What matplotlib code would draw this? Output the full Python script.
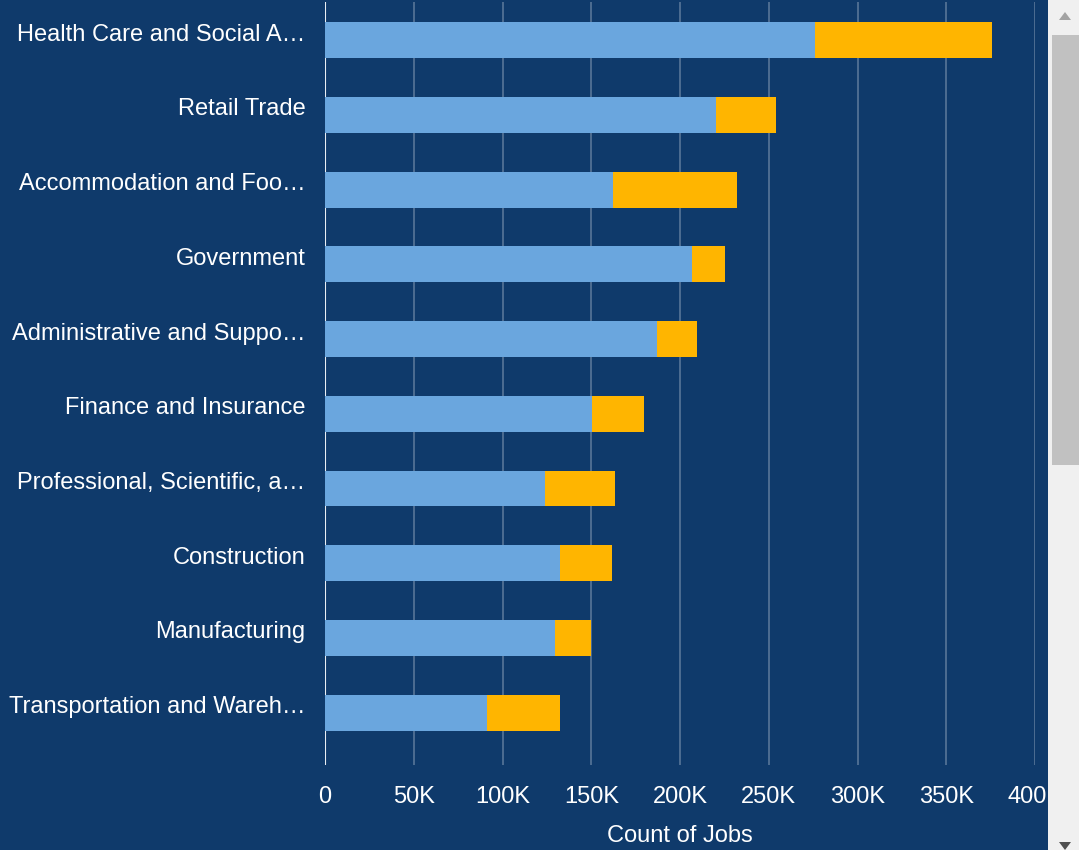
import matplotlib
matplotlib.use("Agg")
import matplotlib.pyplot as plt
from matplotlib.patches import Rectangle, Polygon
from matplotlib.ticker import FuncFormatter
from matplotlib.transforms import ScaledTranslation

categories = [
    "Health Care and Social A…",
    "Retail Trade",
    "Accommodation and Foo…",
    "Government",
    "Administrative and Suppo…",
    "Finance and Insurance",
    "Professional, Scientific, a…",
    "Construction",
    "Manufacturing",
    "Transportation and Wareh…",
]
blue_values = [276000, 220000, 162000, 207000, 187000, 150500, 124000, 132500, 129500, 91500]
yellow_values = [100000, 34000, 70000, 18500, 22500, 29000, 39500, 29000, 20500, 41000]
x_ticks = [0, 50000, 100000, 150000, 200000, 250000, 300000, 350000, 400000]

BG = "#0f3a6b"
BLUE = "#6aa6de"
YELLOW = "#ffb500"

plt.rcParams['font.family'] = ['Liberation Sans', 'DejaVu Sans']

W, H = 1079, 850
fig = plt.figure(figsize=(W / 100, H / 100), dpi=100)
fig.patch.set_facecolor(BG)

ax = fig.add_axes([325 / W, 1 - 765 / H, (1035 - 325) / W, (765 - 2) / H])
ax.set_facecolor(BG)

y = list(range(len(categories)))
ax.barh(y, blue_values, height=0.48, color=BLUE, zorder=3)
ax.barh(y, yellow_values, left=blue_values, height=0.48, color=YELLOW, zorder=3)

ax.set_ylim(9.70, -0.51)
ax.set_xlim(0, 400000)
ax.set_xticks(x_ticks)
ax.xaxis.set_major_formatter(FuncFormatter(lambda v, p: "0" if v == 0 else f"{int(v/1000)}K"))
ax.set_yticks(y)
ax.set_yticklabels(categories)
ax.tick_params(axis='y', length=0, pad=14, labelsize=17, labelcolor='white')
ax.tick_params(axis='x', length=0, pad=15, labelsize=17, labelcolor='white')
off = ScaledTranslation(0, 8 / 100, fig.dpi_scale_trans)
for lbl in ax.get_yticklabels():
    lbl.set_transform(lbl.get_transform() + off)
ax.grid(axis='x', color='#b0bfd0', alpha=0.45, linewidth=1.2, zorder=1)
ax.axvline(0, color='#e8edf3', linewidth=1.5, zorder=2)
for s in ax.spines.values():
    s.set_visible(False)
fig.text(680 / W, 1 - 836 / H, "Count of Jobs", color='white', fontsize=17,
         ha='center', va='center')

# scrollbar
fig.patches.append(Rectangle((1048 / W, 0), 31 / W, 1, transform=fig.transFigure,
                             facecolor='#f0f0f0', edgecolor='none', zorder=10))
fig.patches.append(Rectangle((1052 / W, 1 - 465 / H), 27 / W, (465 - 35) / H,
                             transform=fig.transFigure, facecolor='#c1c1c1',
                             edgecolor='none', zorder=11))
fig.patches.append(Polygon([[(1059) / W, 1 - 20 / H], [(1071) / W, 1 - 20 / H], [(1065) / W, 1 - 12 / H]],
                           closed=True, transform=fig.transFigure, facecolor='#a3a3a3',
                           edgecolor='none', zorder=12))
fig.patches.append(Polygon([[(1059) / W, 1 - 842 / H], [(1071) / W, 1 - 842 / H], [(1065) / W, 1 - 850 / H]],
                           closed=True, transform=fig.transFigure, facecolor='#505050',
                           edgecolor='none', zorder=12))

fig.savefig("out.png", dpi=100, facecolor=BG)
